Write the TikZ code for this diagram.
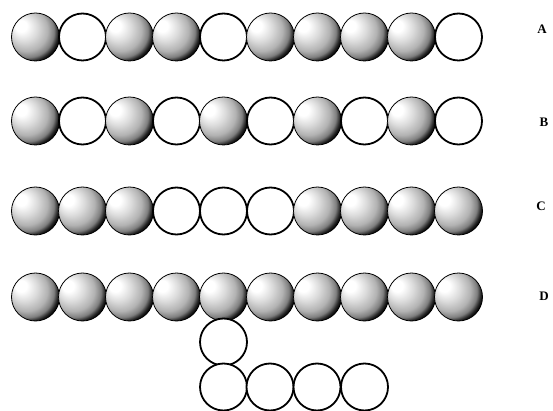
\documentclass[tikz,border=0pt]{standalone}
\usepackage{fontspec}
\setmainfont{Liberation Serif}
\pgfdeclareradialshading{sballshade}{\pgfpoint{-17bp}{13bp}}{color(0bp)=(white); color(6bp)=(white); color(14bp)=(black!14); color(22bp)=(black!30); color(27bp)=(black!50); color(30bp)=(black!85); color(32bp)=(black); color(50bp)=(black)}
\tikzset{
  ballS/.style={circle, minimum size=48pt, inner sep=0pt, shading=sballshade, draw=black, line width=0.8pt},
  ballW/.style={circle, minimum size=47pt, inner sep=0pt, fill=white, draw=black, line width=1.8pt},
  rowlabel/.style={font=\bfseries\fontsize{13}{13}\selectfont, inner sep=0pt}
}
\begin{document}
\begin{tikzpicture}[x=1pt,y=-1pt]
\useasboundingbox (0,0) rectangle (553,411);
\fill[white] (0,0) rectangle (553,411);
% Row A
\foreach \t [count=\i] in {S,W,S,S,W,S,S,S,S,W}
  \node[ball\t] (a\i) at ({35.5+47*(\i-1)},37) {};
% Row B
\foreach \t [count=\i] in {S,W,S,W,S,W,S,W,S,W}
  \node[ball\t] (b\i) at ({35.5+47*(\i-1)},121) {};
% Row C
\foreach \t [count=\i] in {S,S,S,W,W,W,S,S,S,S}
  \node[ball\t] (c\i) at ({35.5+47*(\i-1)},211) {};
% Row D
\foreach \t [count=\i] in {S,S,S,S,S,S,S,S,S,S}
  \node[ball\t] (d\i) at ({35.5+47*(\i-1)},297) {};
% branch below D
\node[ballW] (e1) at (223.5,342) {};
\node[ballW] (f1) at (223.5,387) {};
\node[ballW] (f2) at (270,387) {};
\node[ballW] (f3) at (317,387) {};
\node[ballW] (f4) at (364.5,387) {};
% labels
\node[rowlabel] (la) at (542,29) {A};
\node[rowlabel] (lb) at (544,122) {B};
\node[rowlabel] (lc) at (541,206) {C};
\node[rowlabel] (ld) at (544,296) {D};
\end{tikzpicture}
\end{document}
